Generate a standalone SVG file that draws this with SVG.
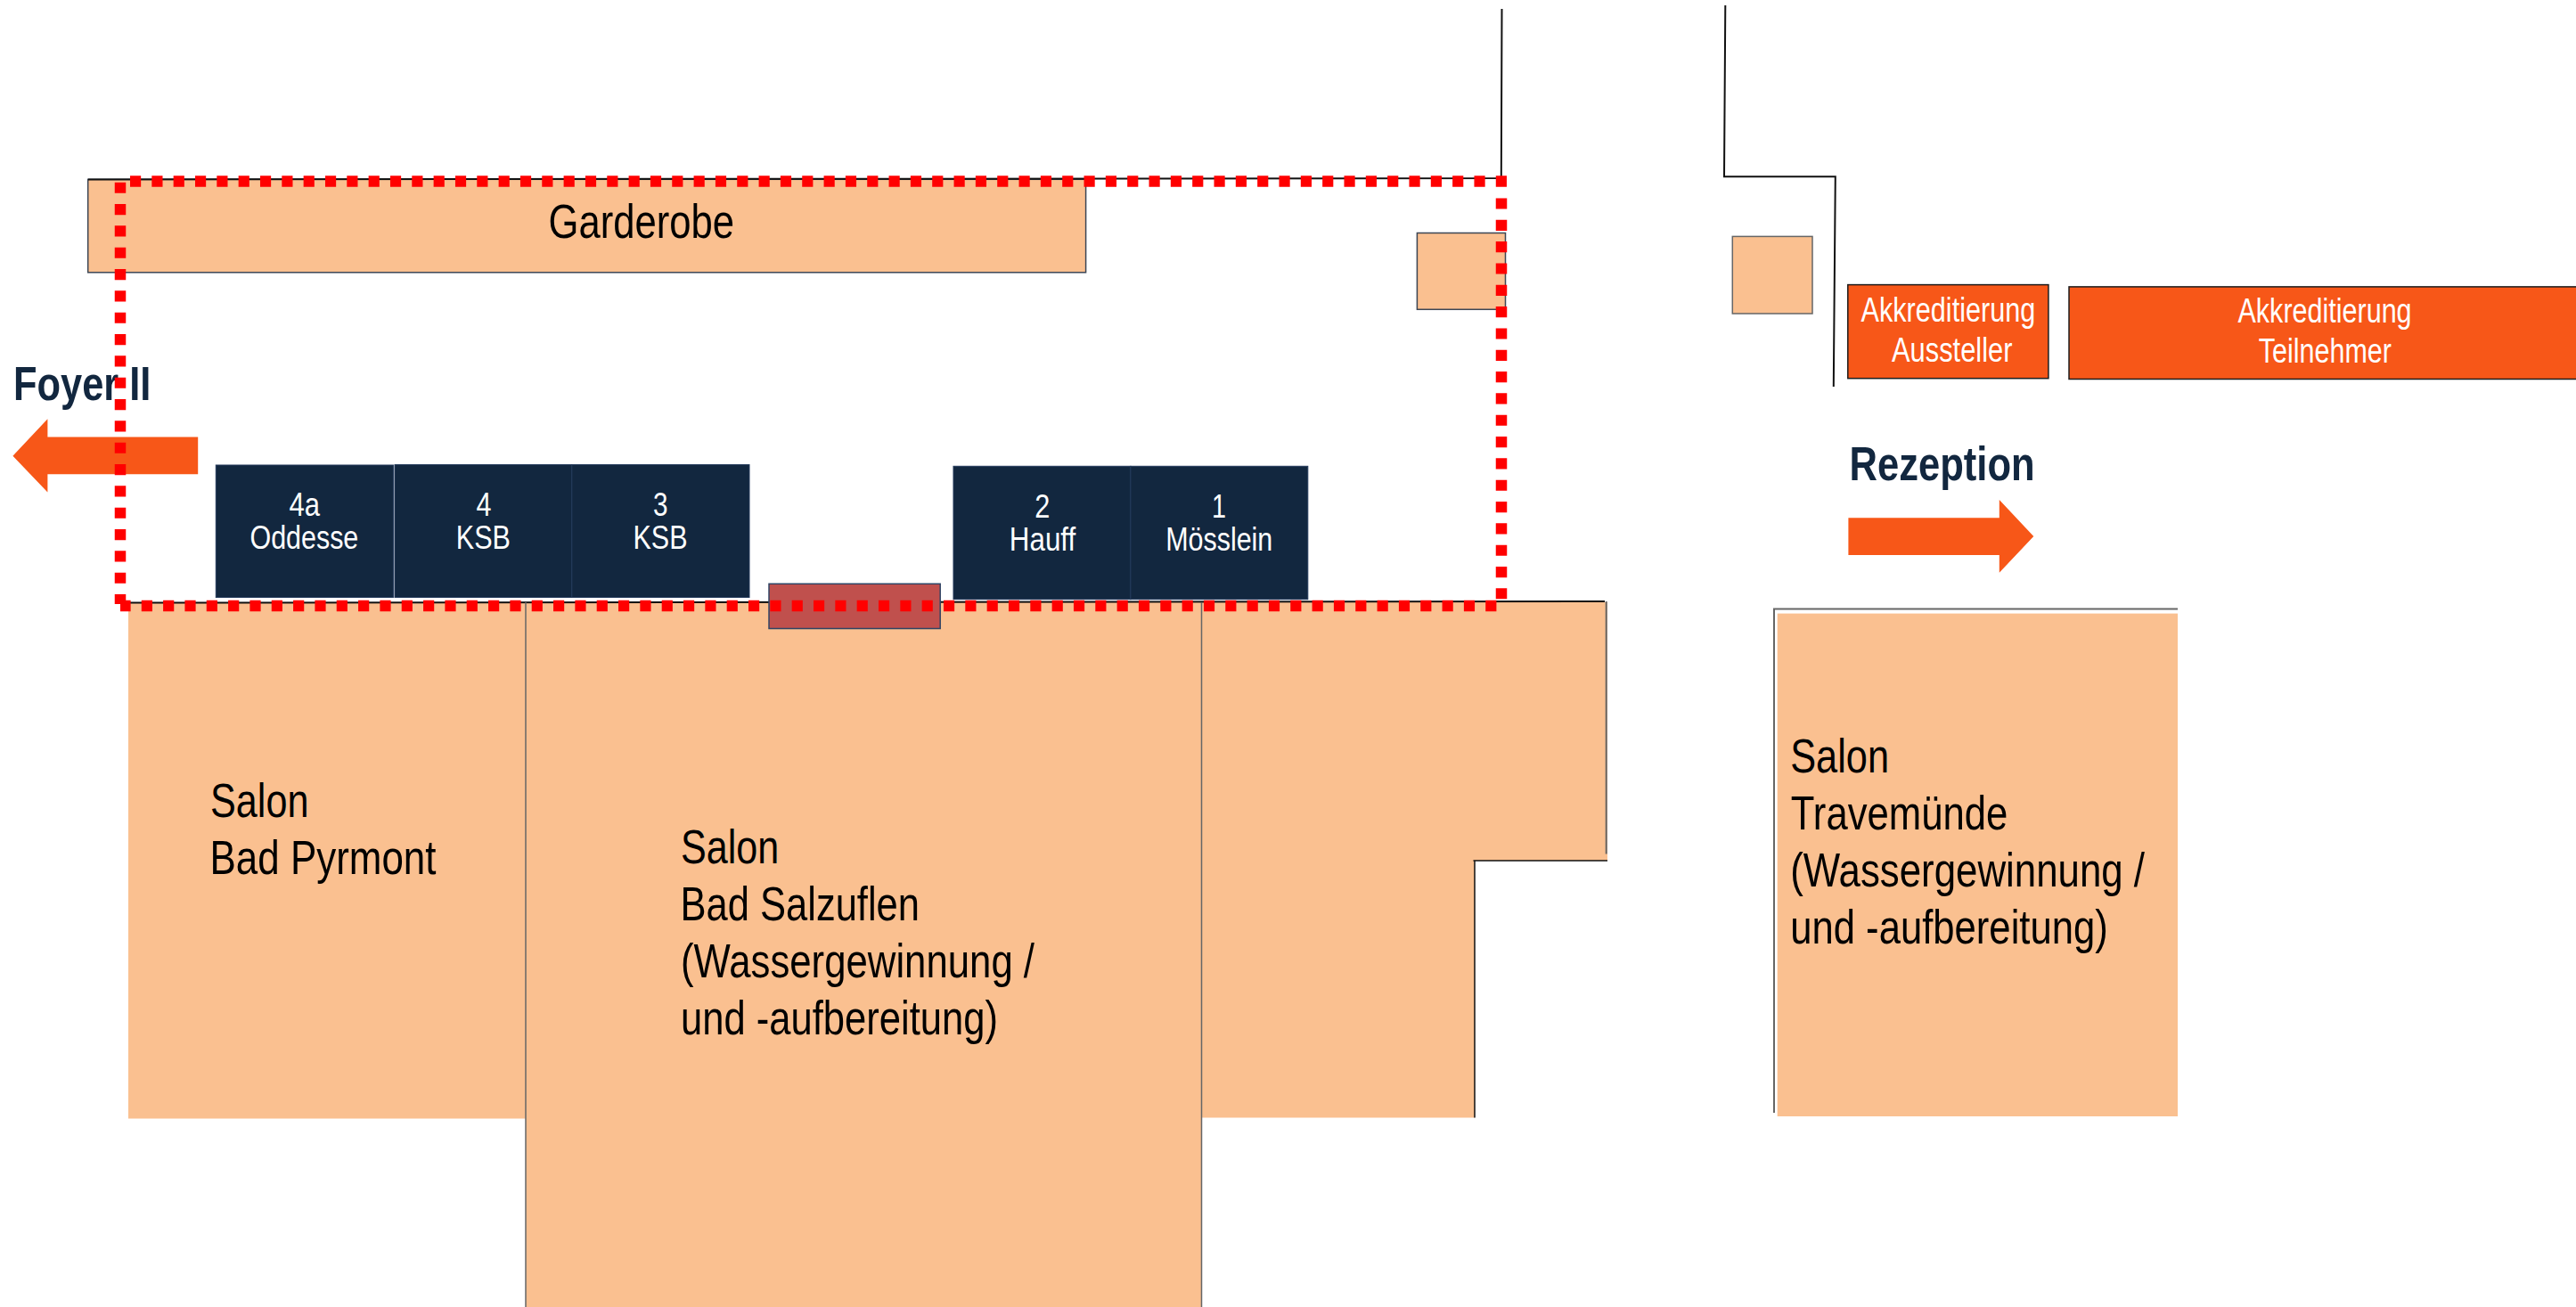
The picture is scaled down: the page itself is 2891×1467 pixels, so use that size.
<svg xmlns="http://www.w3.org/2000/svg" width="2891" height="1467" viewBox="0 0 2891 1467">
<style>
text{font-family:"Liberation Sans",Arial,sans-serif}
.room{fill:#FAC090;stroke:none}
.box{fill:#FAC090;stroke:#3c4654;stroke-width:1.5}
.navy{fill:#12273F;stroke:#22395a;stroke-width:1}
.acc{fill:#F75718;stroke:#1c1c1c;stroke-width:1.5}
.arrow{fill:#F75718;stroke:none}
.wall{fill:none;stroke:#111;stroke-width:2}
.grey{fill:none;stroke:#666;stroke-width:2}
.k{font-size:53px;fill:#000}
.w{font-size:38px;fill:#fff}
.n{font-size:36.5px;fill:#fff}
.h{font-size:54px;font-weight:bold;fill:#12273F}
</style>
<g id="salon-bad-pyrmont">
<rect class="room" x="144" y="676" width="446" height="579.5"/>
<text class="k" x="236" y="917.3" textLength="110.4" lengthAdjust="spacingAndGlyphs">Salon</text>
<text class="k" x="235.5" y="981.4" textLength="254" lengthAdjust="spacingAndGlyphs">Bad Pyrmont</text>
</g>
<g id="salon-bad-salzuflen">
<rect class="room" x="590" y="676" width="759" height="791"/>
<polygon class="room" points="1348,676 1804,676 1804,966 1655,966 1655,1254.5 1348,1254.5"/>
<text class="k" x="764" y="968.9" textLength="110.3" lengthAdjust="spacingAndGlyphs">Salon</text>
<text class="k" x="763.5" y="1033" textLength="268.5" lengthAdjust="spacingAndGlyphs">Bad Salzuflen</text>
<text class="k" x="764" y="1096.5" textLength="397" lengthAdjust="spacingAndGlyphs">(Wassergewinnung /</text>
<text class="k" x="764" y="1161" textLength="356" lengthAdjust="spacingAndGlyphs">und -aufbereitung)</text>
</g>
<g id="salon-travemuende">
<rect class="room" x="1994.7" y="688.6" width="449.3" height="564.4"/>
<text class="k" x="2009.2" y="866.7" textLength="110.8" lengthAdjust="spacingAndGlyphs">Salon</text>
<text class="k" x="2009.8" y="930.8" textLength="243.5" lengthAdjust="spacingAndGlyphs">Travemünde</text>
<text class="k" x="2009.2" y="995" textLength="397.8" lengthAdjust="spacingAndGlyphs">(Wassergewinnung /</text>
<text class="k" x="2009.2" y="1059" textLength="356.6" lengthAdjust="spacingAndGlyphs">und -aufbereitung)</text>
</g>
<g id="garderobe">
<rect class="box" x="98.7" y="201.3" width="1119.9" height="104.5"/>
<text class="k" x="615.5" y="267" textLength="208.5" lengthAdjust="spacingAndGlyphs">Garderobe</text>
</g>
<g id="small-box-left"><rect class="box" x="1590.4" y="261.5" width="99.1" height="85.8"/></g>
<g id="small-box-right"><rect class="box" x="1944.3" y="265.4" width="89.7" height="86.6" style="stroke:#666"/></g>
<g id="connectors">
<path class="wall" d="M1685.5 10L1684.8 200L99 201.5"/>
<path class="wall" d="M144 676.5L1801 675"/>
<path class="wall" d="M1936.3 6L1935 198.3H2059.8L2057.8 434"/>
<path class="grey" style="stroke-width:1.5" d="M590 676V1467M1348.5 676V1467"/>
<path class="grey" d="M1802.7 675V958.5"/>
<path class="wall" style="stroke-width:1.5" d="M1804 966H1653.5M1655 966V1254.5"/>
<path class="grey" d="M2444 683.4H1991V1249"/>
</g>
<g id="stand-4a">
<rect class="navy" x="242.3" y="522" width="199.1" height="148.5"/>
<text class="n" x="324.5" y="579.4" textLength="34.5" lengthAdjust="spacingAndGlyphs">4a</text>
<text class="n" x="280.5" y="616" textLength="121.8" lengthAdjust="spacingAndGlyphs">Oddesse</text>
</g>
<g id="stand-4">
<rect class="navy" x="443" y="521.6" width="198.8" height="148.9"/>
<text class="n" x="534.6" y="579.4" textLength="17" lengthAdjust="spacingAndGlyphs">4</text>
<text class="n" x="511.8" y="616" textLength="61.1" lengthAdjust="spacingAndGlyphs">KSB</text>
</g>
<g id="stand-3">
<rect class="navy" x="641.8" y="521.6" width="199.2" height="148.9"/>
<text class="n" x="733" y="579.4" textLength="16.5" lengthAdjust="spacingAndGlyphs">3</text>
<text class="n" x="710.5" y="616" textLength="61" lengthAdjust="spacingAndGlyphs">KSB</text>
</g>
<g id="stand-2">
<rect class="navy" x="1070" y="523.3" width="198.9" height="149.4"/>
<text class="n" x="1161.3" y="581" textLength="17.1" lengthAdjust="spacingAndGlyphs">2</text>
<text class="n" x="1132.8" y="618" textLength="74.4" lengthAdjust="spacingAndGlyphs">Hauff</text>
</g>
<g id="stand-1">
<rect class="navy" x="1268.9" y="523.3" width="198.9" height="149.4"/>
<text class="n" x="1360" y="581" textLength="16" lengthAdjust="spacingAndGlyphs">1</text>
<text class="n" x="1308.2" y="618" textLength="120.1" lengthAdjust="spacingAndGlyphs">Mösslein</text>
</g>
<g id="red-block"><rect x="863" y="655.3" width="192.2" height="50.2" fill="#C0504D" stroke="#2f4464" stroke-width="1.5"/></g>
<g id="akkreditierung-aussteller">
<rect class="acc" x="2073.8" y="319.6" width="225.1" height="105.1"/>
<text class="w" x="2088.5" y="361" textLength="195.8" lengthAdjust="spacingAndGlyphs">Akkreditierung</text>
<text class="w" x="2123" y="406" textLength="135.4" lengthAdjust="spacingAndGlyphs">Aussteller</text>
</g>
<g id="akkreditierung-teilnehmer">
<rect class="acc" x="2322" y="321.9" width="575" height="103.6"/>
<text class="w" x="2511.5" y="362" textLength="195.1" lengthAdjust="spacingAndGlyphs">Akkreditierung</text>
<text class="w" x="2534.8" y="407" textLength="149.2" lengthAdjust="spacingAndGlyphs">Teilnehmer</text>
</g>
<g id="rezeption">
<text class="h" x="2075.5" y="539" textLength="208.1" lengthAdjust="spacingAndGlyphs">Rezeption</text>
<polygon class="arrow" points="2074.4,581.3 2243.8,581.3 2243.8,561 2282.3,602 2243.8,642.8 2243.8,623 2074.4,623"/>
</g>
<g id="foyer-ii">
<text class="h" x="15" y="448.7" textLength="154.3" lengthAdjust="spacingAndGlyphs">Foyer II</text>
<polygon class="arrow" points="222.2,490.6 53.4,490.6 53.4,470.3 14.4,511.7 53.4,552.6 53.4,532.3 222.2,532.3"/>
</g>
<g id="exhibition-area">
<path fill="none" stroke="#FF0000" stroke-width="12.5" stroke-dasharray="12.17 12.16" d="M146 203.5H1691M1685 222.4V672.2M1679.4 680H135M135 204.7V678"/>
</g>
</svg>
